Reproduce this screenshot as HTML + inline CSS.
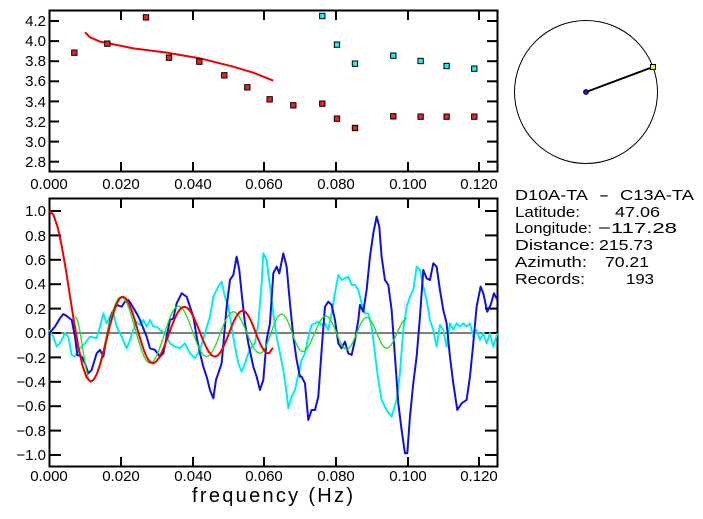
<!DOCTYPE html>
<html><head><meta charset="utf-8"><style>
html,body{margin:0;padding:0;background:#fff;}
svg{display:block;}
text{font-family:"Liberation Sans",sans-serif;fill:#000;}
</style></head><body>
<svg id="s" width="703" height="519" viewBox="0 0 703 519" xmlns="http://www.w3.org/2000/svg">
<rect x="49.5" y="10.5" width="448" height="161" fill="none" stroke="#000" stroke-width="2"/>
<g stroke="#000" stroke-width="2" id="tt"></g>
<g font-size="15" text-anchor="end">
<text x="46" y="26">4.2</text><text x="46" y="46">4.0</text><text x="46" y="66">3.8</text><text x="46" y="86">3.6</text><text x="46" y="107">3.4</text><text x="46" y="127">3.2</text><text x="46" y="147">3.0</text><text x="46" y="167">2.8</text>
</g>
<g font-size="15" text-anchor="middle">
<text x="49" y="189">0.000</text><text x="121" y="189">0.020</text><text x="193" y="189">0.040</text><text x="264" y="189">0.060</text><text x="336" y="189">0.080</text><text x="408" y="189">0.100</text><text x="479" y="189">0.120</text>
</g>
<g transform="scale(0.3333)">
<polyline fill="none" stroke="#e00" stroke-width="6" points="255,97 270,112 300,125 400,145 500,158 600,175 700,200 760,218 820,242"/>
<g id="sq"></g>
</g>
<rect x="49.5" y="198.5" width="448" height="268" fill="none" stroke="#000" stroke-width="2"/>
<line x1="49" y1="333" x2="497" y2="333" stroke="#000" stroke-width="1"/>
<g stroke="#000" stroke-width="2" id="bt"></g>
<g font-size="15" text-anchor="end">
<text x="46" y="216">1.0</text><text x="46" y="241">0.8</text><text x="46" y="265">0.6</text><text x="46" y="289">0.4</text><text x="46" y="314">0.2</text><text x="46" y="338">0.0</text><text x="46" y="363">−0.2</text><text x="46" y="387">−0.4</text><text x="46" y="411">−0.6</text><text x="46" y="436">−0.8</text><text x="46" y="460">−1.0</text>
</g>
<g font-size="15" text-anchor="middle">
<text x="49" y="481">0.000</text><text x="121" y="481">0.020</text><text x="193" y="481">0.040</text><text x="264" y="481">0.060</text><text x="336" y="481">0.080</text><text x="408" y="481">0.100</text><text x="479" y="481">0.120</text>
</g>
<text x="192" y="502" font-size="20" textLength="161">frequency (Hz)</text>
<g transform="translate(0,190) scale(0.3333)" fill="none" stroke-linejoin="round">
<polyline id="cy" stroke="#0ee" stroke-width="6" points="148,420 160,440 170,470 180,460 195,430 205,440 215,495 225,500 240,475 255,460 270,440 290,445 300,410 310,370 320,400 330,380 340,370 350,410 365,440 380,475 390,450 400,420 410,395 420,405 430,390 440,410 450,390 460,410 470,410 480,420 495,430 510,460 525,470 540,475 555,460 570,490 585,505 600,480 615,430 630,380 640,320 655,290 665,275 675,320 685,350 695,410 705,470 715,520 725,545 735,520 745,490 755,470 765,460 775,400 785,280 790,190 800,210 810,290 820,370 830,440 840,490 850,540 860,610 865,655 875,620 885,600 895,555 905,510 915,490 925,440 935,405 945,400 955,395 965,405 975,400 985,420 995,370 1005,310 1015,255 1025,270 1035,265 1045,260 1055,285 1065,285 1075,300 1085,340 1095,370 1105,370 1115,410 1125,490 1135,570 1145,630 1160,660 1175,680 1190,630 1200,550 1210,420 1220,350 1230,320 1240,300 1250,230 1260,240 1270,290 1280,330 1290,390 1300,420 1310,470 1320,405 1330,420 1340,470 1350,400 1360,420 1370,400 1380,410 1390,400 1400,410 1410,400 1420,440 1430,420 1440,450 1450,430 1460,460 1470,430 1480,470 1492,430"/>
<polyline stroke="#11d" stroke-width="6" points="148,430 165,410 180,385 190,372 200,378 215,390 225,440 232,495 245,500 255,520 265,550 275,540 290,490 300,480 310,500 320,440 335,370 350,345 365,350 375,335 385,330 395,345 410,370 420,390 440,440 450,475 465,480 480,500 490,490 500,440 510,390 520,385 530,340 545,310 560,320 570,350 580,380 590,440 600,490 610,530 620,560 630,600 640,625 648,570 655,550 665,520 680,350 690,270 700,255 710,200 718,240 725,310 735,400 745,460 760,530 770,560 780,600 790,570 800,450 810,400 820,250 830,230 838,250 850,190 860,230 870,340 880,440 890,510 900,560 905,560 915,580 925,690 935,660 945,660 955,620 965,480 975,350 985,335 995,345 1005,390 1015,460 1025,475 1035,455 1045,490 1055,495 1065,450 1075,390 1080,345 1090,365 1100,300 1110,200 1120,130 1130,80 1138,110 1145,200 1155,270 1165,285 1175,360 1185,500 1195,640 1205,720 1215,790 1222,790 1230,680 1240,580 1250,500 1260,380 1270,240 1280,265 1290,270 1300,220 1310,230 1320,300 1330,360 1340,400 1350,500 1360,580 1372,660 1385,640 1400,630 1410,560 1420,460 1430,350 1442,290 1450,310 1462,365 1472,345 1482,310 1492,330"/>
<polyline id="gr" stroke="#2d2" stroke-width="4"/>
<polyline id="rd" stroke="#e00" stroke-width="6"/>
</g>
<circle cx="586" cy="92" r="71.5" fill="none" stroke="#000" stroke-width="1"/>
<line x1="586" y1="92" x2="653" y2="67" stroke="#000" stroke-width="2"/>
<circle cx="586" cy="92" r="2.5" fill="#11d" stroke="#000" stroke-width="0.8"/>
<rect x="650.5" y="64.5" width="5" height="5" fill="#ee2" stroke="#000" stroke-width="1"/>
<g font-size="15">
<text x="515" y="200" textLength="73" lengthAdjust="spacingAndGlyphs">D10A-TA</text>
<text x="599" y="200" textLength="10" lengthAdjust="spacingAndGlyphs">-</text>
<text x="620" y="200" textLength="74" lengthAdjust="spacingAndGlyphs">C13A-TA</text>
<text x="515" y="217" textLength="65" lengthAdjust="spacingAndGlyphs">Latitude:</text>
<text x="615" y="217" textLength="45" lengthAdjust="spacingAndGlyphs">47.06</text>
<text x="515" y="233" textLength="77" lengthAdjust="spacingAndGlyphs">Longitude:</text>
<text x="598" y="233" textLength="79" lengthAdjust="spacingAndGlyphs">−117.28</text>
<text x="515" y="250" textLength="80" lengthAdjust="spacingAndGlyphs">Distance:</text>
<text x="599" y="250" textLength="54" lengthAdjust="spacingAndGlyphs">215.73</text>
<text x="515" y="267" textLength="72" lengthAdjust="spacingAndGlyphs">Azimuth:</text>
<text x="605" y="267" textLength="44" lengthAdjust="spacingAndGlyphs">70.21</text>
<text x="515" y="284" textLength="70" lengthAdjust="spacingAndGlyphs">Records:</text>
<text x="626" y="284" textLength="28" lengthAdjust="spacingAndGlyphs">193</text>
</g>
</svg>
<script>
var NS="http://www.w3.org/2000/svg";
function ln(g,x1,y1,x2,y2){var l=document.createElementNS(NS,"line");l.setAttribute("x1",x1);l.setAttribute("y1",y1);l.setAttribute("x2",x2);l.setAttribute("y2",y2);document.getElementById(g).appendChild(l);}
var xs=[121,193,264,336,408,479];
xs.forEach(function(x){ln("tt",x,10,x,20);ln("tt",x,172,x,162);ln("bt",x,198,x,208);ln("bt",x,467,x,457);});
for(var i=0;i<8;i++){var y=21+i*20.1;ln("tt",49,y,59,y);ln("tt",497,y,487,y);}
for(var i=0;i<11;i++){var y=211+i*24.4;ln("bt",49,y,61,y);ln("bt",497,y,485,y);}
function sq(c,pts){var g=document.getElementById("sq");pts.forEach(function(p){var r=document.createElementNS(NS,"rect");r.setAttribute("x",p[0]-8);r.setAttribute("y",p[1]-8);r.setAttribute("width",16);r.setAttribute("height",16);r.setAttribute("fill",c);r.setAttribute("stroke","#000");r.setAttribute("stroke-width","3");g.appendChild(r);});}
sq("#e22",[[223,158],[322,131],[438,52],[507,173],[598,185],[673,226],[742,262],[809,298],[880,316],[967,311],[1011,356],[1065,384],[1180,349],[1262,350],[1340,350],[1423,350]]);
sq("#2ee",[[967,48],[1011,134],[1065,191],[1180,167],[1262,183],[1340,198],[1423,206]]);
function curve(id,ext){var s="";for(var i=0;i<ext.length-1;i++){var a=ext[i],b=ext[i+1];for(var k=0;k<=10;k++){var t=k/10;var x=a[0]+(b[0]-a[0])*t;var y=a[1]+(b[1]-a[1])*(1-Math.cos(Math.PI*t))/2;s+=x.toFixed(1)+","+y.toFixed(1)+" ";}}document.getElementById(id).setAttribute("points",s);}
curve("rd",[[148,62],[272,575],[368,320],[458,520],[553,350],[645,500],[728,362],[805,490],[820,475]]);
curve("gr",[[225,380],[272,575],[363,320],[450,520],[535,348],[620,500],[700,365],[780,490],[845,372],[908,485],[978,378],[1040,478],[1100,382],[1160,475],[1222,385]]);
</script>
</body></html>
